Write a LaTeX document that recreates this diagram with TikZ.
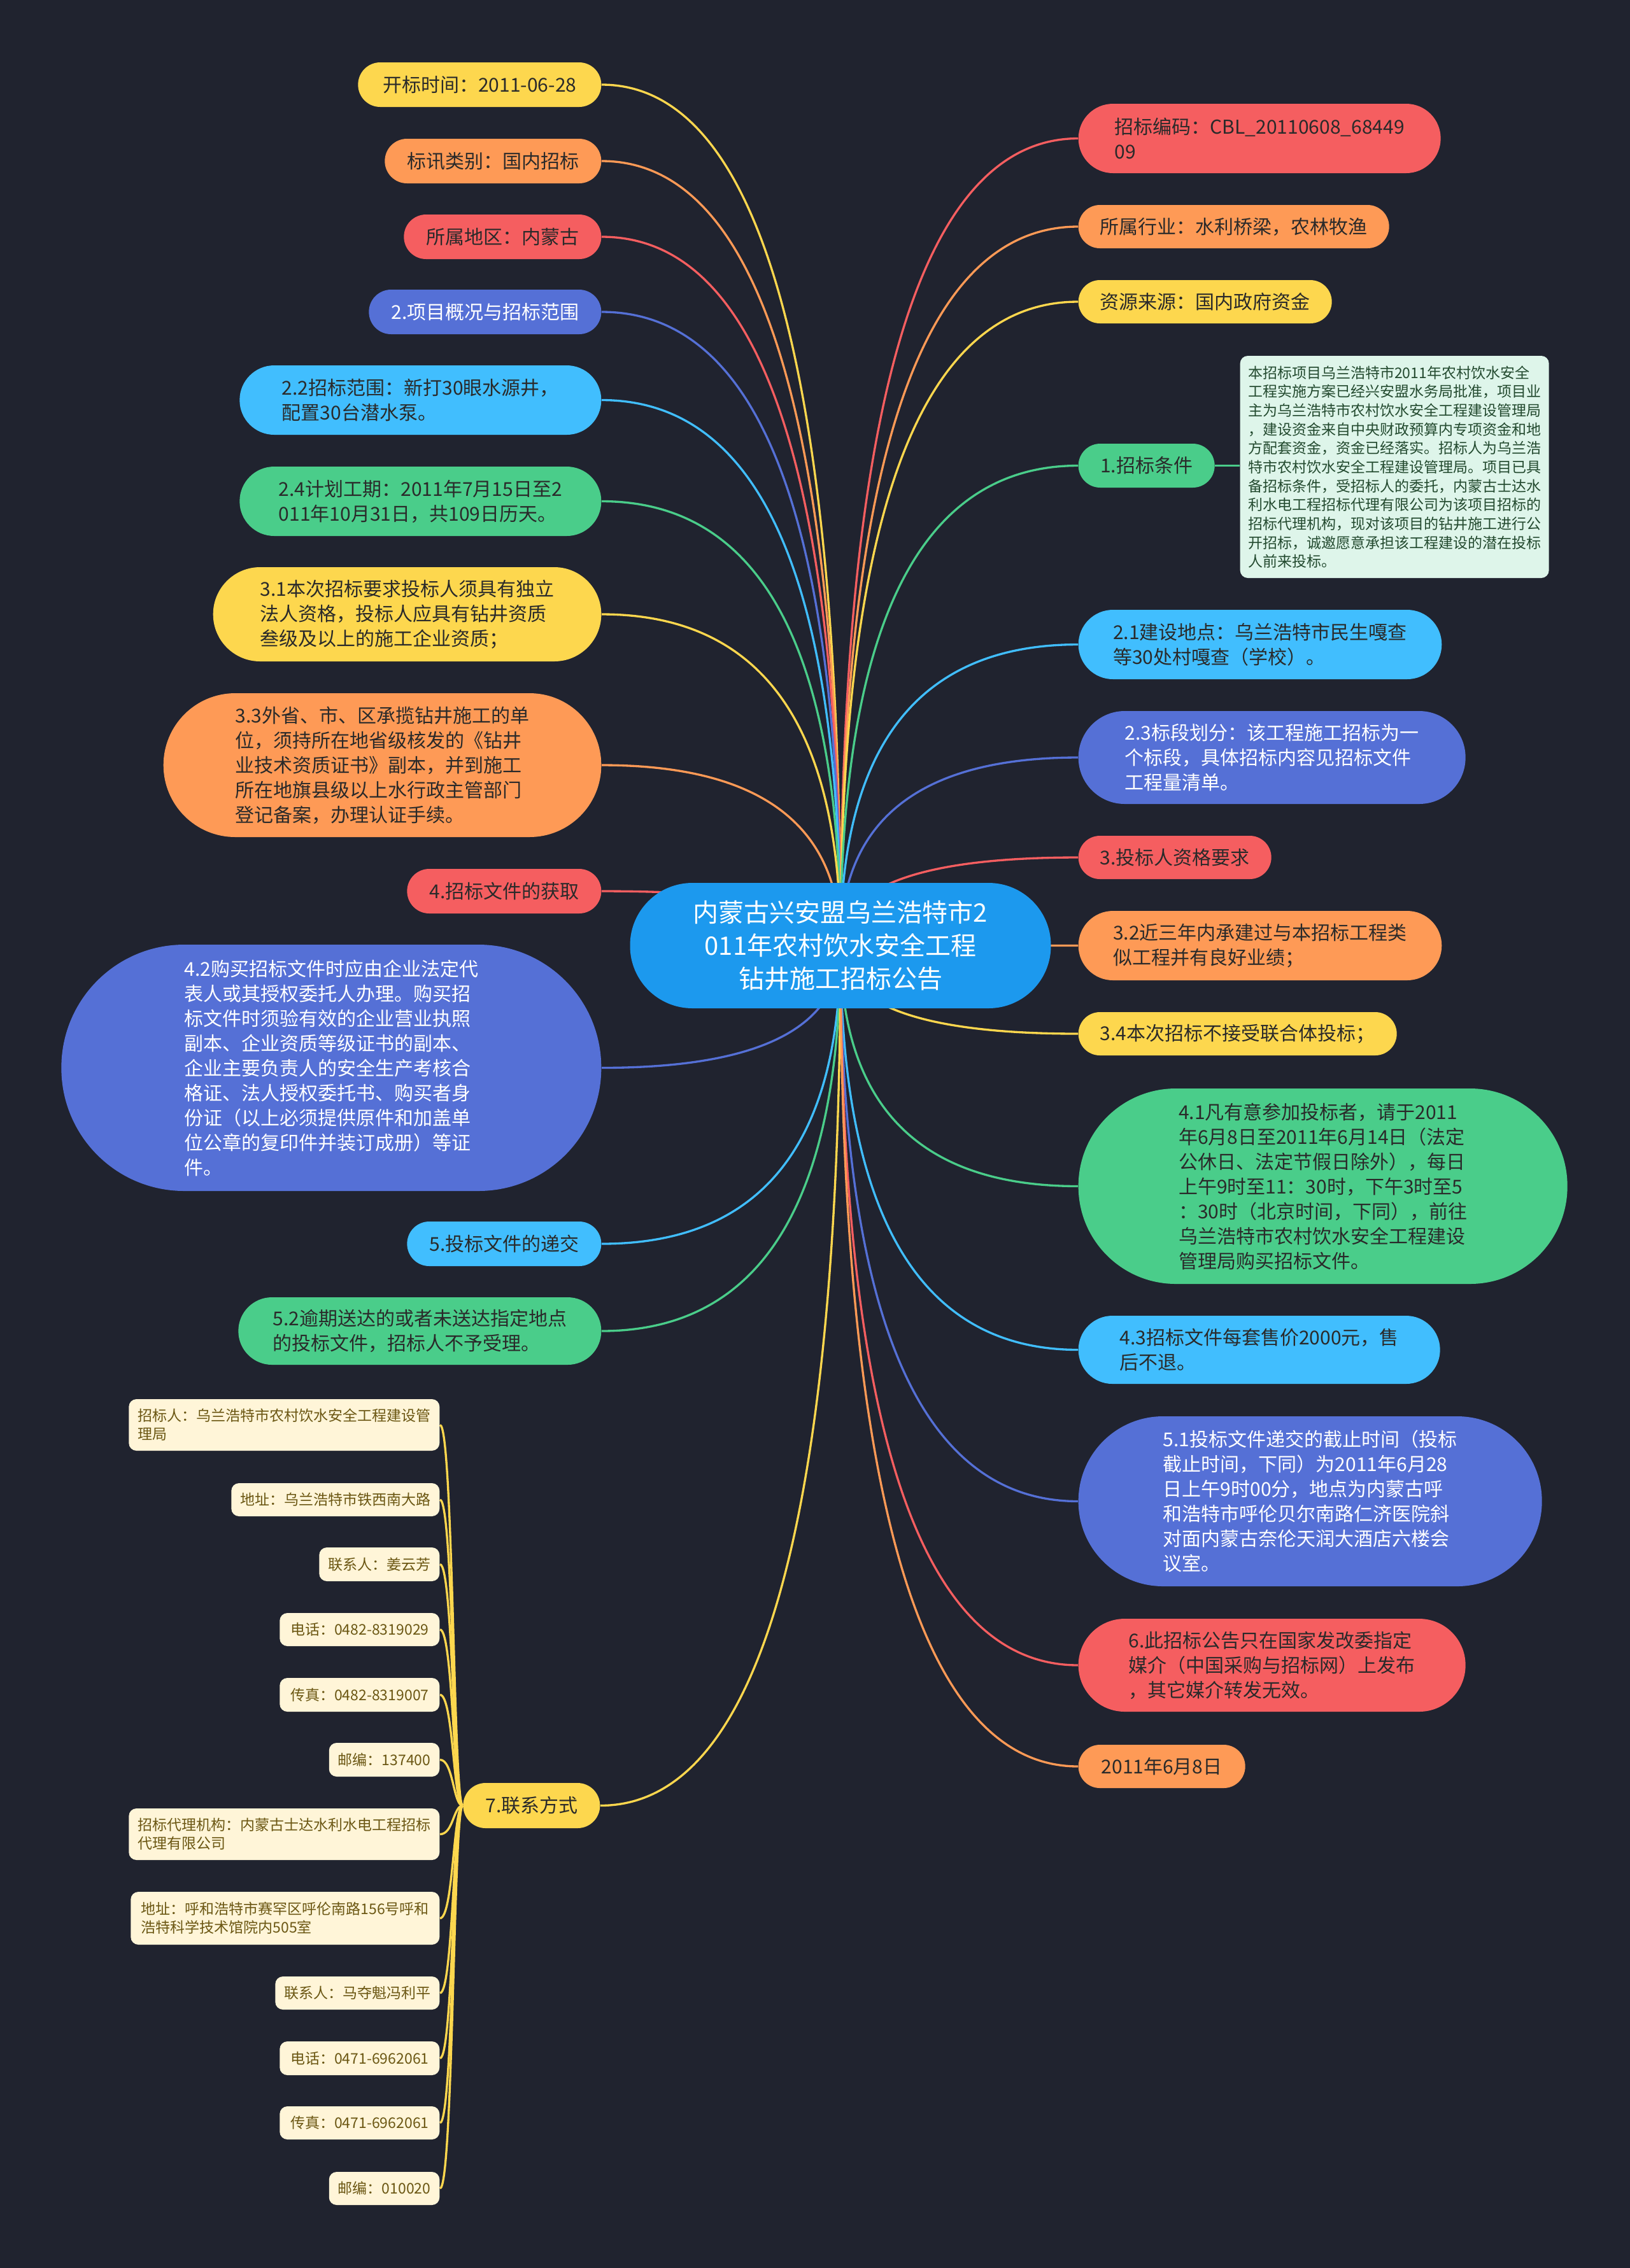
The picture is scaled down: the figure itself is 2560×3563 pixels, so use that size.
\documentclass[tikz,border=0pt]{standalone}
\usepackage{fontspec}
\setmainfont{Noto Sans CJK SC}
\usetikzlibrary{calc,backgrounds}
\definecolor{cBg}{HTML}{20232F}
\definecolor{cY}{HTML}{FDD74E}
\definecolor{cO}{HTML}{FE9A56}
\definecolor{cR}{HTML}{F55E60}
\definecolor{cB}{HTML}{5570D6}
\definecolor{cL}{HTML}{41BEFE}
\definecolor{cG}{HTML}{4ACD8A}
\definecolor{cC}{HTML}{1C99EE}
\definecolor{cDk}{HTML}{2A2A2A}
\definecolor{cCream}{HTML}{FFF5D8}
\definecolor{cCreamT}{HTML}{6B5713}
\definecolor{cMint}{HTML}{DEF5EA}
\definecolor{cMintT}{HTML}{234A2F}
\tikzset{
  mm/.style={draw=none, align=left, text=cDk, font=\fontsize{9}{11.7}\selectfont},
  lft/.style={mm, anchor=east},
  rgt/.style={mm, anchor=west},
  ct/.style={mm, anchor=east, fill=cCream, text=cCreamT, font=\fontsize{6.9}{8.7}\selectfont},
  link/.style={line width=1pt},
}
% name, anchor x, top y, width, height, x padding, corner radius, style, text
\newcommand\mmnode[9]{%
  \pgfmathsetmacro\mmy{#3+#5/2}%
  \pgfmathsetmacro\mmw{#4*0.3}%
  \pgfmathsetmacro\mmh{#5*0.3}%
  \pgfmathsetmacro\mmp{#6*0.3}%
  \pgfmathsetmacro\mmr{#7*0.3}%
  \node[#8, minimum width=\mmw pt, minimum height=\mmh pt, inner xsep=\mmp pt, inner ysep=0pt, rounded corners=\mmr pt] (#1) at (#2,\mmy) {#9};}
\newcommand\mmlink[2]{\draw[link,#2] (#1) .. controls ($(#1)!0.667!(ctr.center|-#1)$) and ($(ctr.center)!0.667!(ctr.center|-#1)$) .. (ctr.center);}
\newcommand\mmct[1]{\draw[link,cY] (#1.east) .. controls (trk|-#1.east) and (trk) .. (n7.west);}
\begin{document}
\begin{tikzpicture}[x=0.3pt,y=-0.3pt]
\useasboundingbox (0,0) rectangle (2560,3563);
% centre
\mmnode{ctr}{1320}{1387}{661}{197}{80}{98}{mm, anchor=center, align=center, fill=cC, text=white, font=\fontsize{12}{15.6}\selectfont}{内蒙古兴安盟乌兰浩特市2\\011年农村饮水安全工程\\钻井施工招标公告}
% left side
\mmnode{L1}{945}{98}{382}{70}{35}{34.8}{lft, fill=cY}{开标时间：2011-06-28}
\mmnode{L2}{945}{218}{335}{70}{35}{34.8}{lft, fill=cO}{标讯类别：国内招标}
\mmnode{L3}{945}{337}{305}{70}{35}{34.8}{lft, fill=cR}{所属地区：内蒙古}
\mmnode{L4}{945}{455}{359}{70}{35}{34.8}{lft, fill=cB, text=white}{2.项目概况与招标范围}
\mmnode{L5}{945}{574}{568}{109}{54.5}{54.3}{lft, fill=cL}{2.2招标范围：新打30眼水源井，\\配置30台潜水泵。}
\mmnode{L6}{945}{733}{568}{109}{54.5}{54.3}{lft, fill=cG}{2.4计划工期：2011年7月15日至2\\011年10月31日，共109日历天。}
\mmnode{L7}{945}{891}{609}{148}{74}{73.8}{lft, fill=cY}{3.1本次招标要求投标人须具有独立\\法人资格，投标人应具有钻井资质\\叁级及以上的施工企业资质；}
\mmnode{L8}{945}{1089}{687}{226}{113}{112.8}{lft, fill=cO}{3.3外省、市、区承揽钻井施工的单\\位，须持所在地省级核发的《钻井\\业技术资质证书》副本，并到施工\\所在地旗县级以上水行政主管部门\\登记备案，办理认证手续。}
\mmnode{L9}{945}{1365}{298}{70}{35}{34.8}{lft, fill=cR}{4.招标文件的获取}
\mmnode{L10}{945}{1484}{848}{387}{193}{193}{lft, fill=cB, text=white}{4.2购买招标文件时应由企业法定代\\表人或其授权委托人办理。购买招\\标文件时须验有效的企业营业执照\\副本、企业资质等级证书的副本、\\企业主要负责人的安全生产考核合\\格证、法人授权委托书、购买者身\\份证（以上必须提供原件和加盖单\\位公章的复印件并装订成册）等证\\件。}
\mmnode{L11}{945}{1919}{298}{70}{35}{34.8}{lft, fill=cL}{5.投标文件的递交}
\mmnode{L12}{945}{2038}{570}{106}{53}{52.8}{lft, fill=cG}{5.2逾期送达的或者未送达指定地点\\的投标文件，招标人不予受理。}
\mmnode{n7}{943}{2801}{209}{71}{35}{35.3}{lft, fill=cY}{7.联系方式}
% right side
\mmnode{R1}{1693}{163}{569}{109}{54.5}{54.3}{rgt, fill=cR}{招标编码：CBL\_20110608\_68449\\09}
\mmnode{R2}{1693}{322}{483}{68}{34}{33.8}{rgt, fill=cO}{所属行业：水利桥梁，农林牧渔}
\mmnode{R3}{1693}{440}{394}{68}{34}{33.8}{rgt, fill=cY}{资源来源：国内政府资金}
\mmnode{R4}{1693}{697}{212}{69}{34.5}{34.3}{rgt, fill=cG}{1.招标条件}
\mmnode{desc}{1947}{559}{485}{349}{12}{12}{rgt, fill=cMint, text=cMintT, font=\fontsize{6.9}{8.9}\selectfont}{本招标项目乌兰浩特市2011年农村饮水安全\\工程实施方案已经兴安盟水务局批准，项目业\\主为乌兰浩特市农村饮水安全工程建设管理局\\，建设资金来自中央财政预算内专项资金和地\\方配套资金，资金已经落实。招标人为乌兰浩\\特市农村饮水安全工程建设管理局。项目已具\\备招标条件，受招标人的委托，内蒙古士达水\\利水电工程招标代理有限公司为该项目招标的\\招标代理机构，现对该项目的钻井施工进行公\\开招标，诚邀愿意承担该工程建设的潜在投标\\人前来投标。}
\mmnode{R5}{1693}{958}{568}{109}{54.5}{54.3}{rgt, fill=cL}{2.1建设地点：乌兰浩特市民生嘎查\\等30处村嘎查（学校）。}
\mmnode{R6}{1693}{1117}{608}{146}{73}{72.8}{rgt, fill=cB, text=white}{2.3标段划分：该工程施工招标为一\\个标段，具体招标内容见招标文件\\工程量清单。}
\mmnode{R7}{1693}{1313}{299}{68}{34}{33.8}{rgt, fill=cR}{3.投标人资格要求}
\mmnode{R8}{1693}{1431}{570}{109}{54.5}{54.3}{rgt, fill=cO}{3.2近三年内承建过与本招标工程类\\似工程并有良好业绩；}
\mmnode{R9}{1693}{1590}{500}{68}{34}{33.8}{rgt, fill=cY}{3.4本次招标不接受联合体投标；}
\mmnode{R10}{1693}{1710}{768}{307}{153}{153}{rgt, fill=cG}{4.1凡有意参加投标者，请于2011\\年6月8日至2011年6月14日（法定\\公休日、法定节假日除外），每日\\上午9时至11：30时，下午3时至5\\：30时（北京时间，下同），前往\\乌兰浩特市农村饮水安全工程建设\\管理局购买招标文件。}
\mmnode{R11}{1693}{2067}{568}{107}{53.5}{53.3}{rgt, fill=cL}{4.3招标文件每套售价2000元，售\\后不退。}
\mmnode{R12}{1693}{2225}{728}{267}{133}{133}{rgt, fill=cB, text=white}{5.1投标文件递交的截止时间（投标\\截止时间，下同）为2011年6月28\\日上午9时00分，地点为内蒙古呼\\和浩特市呼伦贝尔南路仁济医院斜\\对面内蒙古奈伦天润大酒店六楼会\\议室。}
\mmnode{R13}{1693}{2543}{608}{146}{73}{72.8}{rgt, fill=cR}{6.此招标公告只在国家发改委指定\\媒介（中国采购与招标网）上发布\\，其它媒介转发无效。}
\mmnode{R14}{1693}{2741}{262}{68}{34}{33.8}{rgt, fill=cO}{2011年6月8日}
% contacts
\mmnode{K1}{691}{2198}{485}{81}{14}{12}{ct}{招标人：乌兰浩特市农村饮水安全工程建设管\\理局}
\mmnode{K2}{691}{2330}{323}{52}{14}{12}{ct}{地址：乌兰浩特市铁西南大路}
\mmnode{K3}{691}{2431}{185}{53}{14}{12}{ct}{联系人：姜云芳}
\mmnode{K4}{691}{2534}{251}{52}{14}{12}{ct}{电话：0482-8319029}
\mmnode{K5}{691}{2636}{251}{53}{14}{12}{ct}{传真：0482-8319007}
\mmnode{K6}{691}{2738}{173}{53}{14}{12}{ct}{邮编：137400}
\mmnode{K7}{691}{2841}{485}{81}{14}{12}{ct}{招标代理机构：内蒙古士达水利水电工程招标\\代理有限公司}
\mmnode{K8}{691}{2972}{485}{83}{14}{12}{ct}{地址：呼和浩特市赛罕区呼伦南路156号呼和\\浩特科学技术馆院内505室}
\mmnode{K9}{691}{3105}{254}{52}{14}{12}{ct}{联系人：马夺魁冯利平}
\mmnode{K10}{691}{3207}{251}{53}{14}{12}{ct}{电话：0471-6962061}
\mmnode{K11}{691}{3309}{251}{52}{14}{12}{ct}{传真：0471-6962061}
\mmnode{K12}{691}{3412}{173}{52}{14}{12}{ct}{邮编：010020}
\coordinate (trk) at (712,2837);
\begin{pgfonlayer}{background}
\fill[cBg] (0,0) rectangle (2560,3563);
\mmlink{L1.east}{cY}
\mmlink{L2.east}{cO}
\mmlink{L3.east}{cR}
\mmlink{L4.east}{cB}
\mmlink{L5.east}{cL}
\mmlink{L6.east}{cG}
\mmlink{L7.east}{cY}
\mmlink{L8.east}{cO}
\mmlink{L9.east}{cR}
\mmlink{L10.east}{cB}
\mmlink{L11.east}{cL}
\mmlink{L12.east}{cG}
\mmlink{n7.east}{cY}
\mmlink{R1.west}{cR}
\mmlink{R2.west}{cO}
\mmlink{R3.west}{cY}
\mmlink{R4.west}{cG}
\mmlink{R5.west}{cL}
\mmlink{R6.west}{cB}
\mmlink{R7.west}{cR}
\mmlink{R8.west}{cO}
\mmlink{R9.west}{cY}
\mmlink{R10.west}{cG}
\mmlink{R11.west}{cL}
\mmlink{R12.west}{cB}
\mmlink{R13.west}{cR}
\mmlink{R14.west}{cO}
\draw[link,cG] (R4.east) -- (R4.east -| desc.west);
\mmct{K1}\mmct{K2}\mmct{K3}\mmct{K4}\mmct{K5}\mmct{K6}
\mmct{K7}\mmct{K8}\mmct{K9}\mmct{K10}\mmct{K11}\mmct{K12}
\end{pgfonlayer}
\end{tikzpicture}
\end{document}
